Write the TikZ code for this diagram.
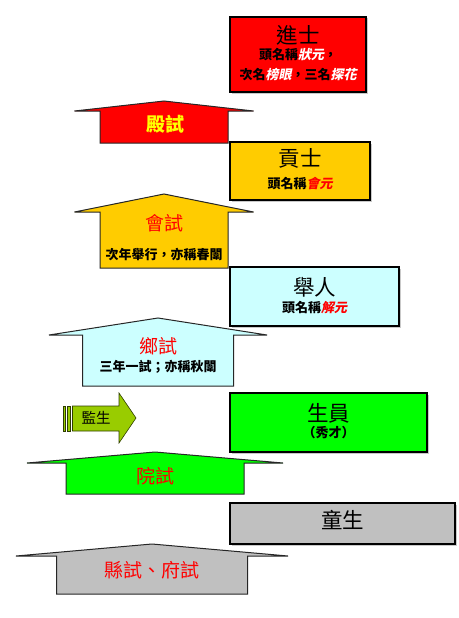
\documentclass[tikz,border=0pt]{standalone}
\usepackage{fontspec}
\setmainfont{Noto Sans CJK TC}
\newfontfamily\slantcjk[FakeSlant=0.2]{Noto Sans CJK TC}
\usepackage{xcolor}
\usepackage{tikz}
\usetikzlibrary{shadows}
\definecolor{examred}{HTML}{FF0000}
\definecolor{gongshigold}{HTML}{FFCC00}
\definecolor{jurencyan}{HTML}{CCFFFF}
\definecolor{shengyuangreen}{HTML}{00FF00}
\definecolor{tongshenggray}{HTML}{C0C0C0}
\definecolor{jianshengolive}{HTML}{99CC00}
\definecolor{dianyellow}{HTML}{FFFF00}
\tikzset{
  rankbox/.style={draw=black,line width=1.7pt,
    drop shadow={shadow xshift=1.5pt,shadow yshift=-1.5pt,fill=black!30,opacity=.7}},
  stagearrow/.style={draw=black!85,line width=1pt,line join=miter},
  ranktitle/.style={font=\fontsize{21.5}{23}\selectfont},
  ranknote/.style={font=\bfseries\fontsize{13}{15}\selectfont},
  stagelabel/.style={text=examred,font=\fontsize{19}{21}\selectfont},
  stagenote/.style={font=\bfseries\fontsize{13}{15}\selectfont}
}

\begin{document}
\begin{tikzpicture}[x=1pt,y=-1pt]
\useasboundingbox (0,0) rectangle (458,618);
% rank boxes
\node[rankbox,fill=examred,minimum width=136pt,minimum height=75pt] (jinshi) at (298,54.5) {};
\node[rankbox,fill=gongshigold,minimum width=140pt,minimum height=58pt] (gongshi) at (300,171) {};
\node[rankbox,fill=jurencyan,minimum width=169pt,minimum height=59pt] (juren) at (314.5,296.5) {};
\node[rankbox,fill=shengyuangreen,minimum width=197pt,minimum height=59pt] (shengyuan) at (328.5,422.5) {};
\node[rankbox,fill=tongshenggray,minimum width=225pt,minimum height=41pt] (tongsheng) at (342.5,523.5) {};
\node[ranktitle] (jinshititle) at (298,35) {進士};
\node[ranknote] (jinshinote) at (298,55) {頭名稱{\slantcjk\color{white}狀元}，};
\node[ranknote] (jinshinoteb) at (298,75) {次名{\slantcjk\color{white}榜眼}，三名{\slantcjk\color{white}探花}};
\node[ranktitle] (gongshititle) at (300,158) {貢士};
\node[ranknote] (gongshinote) at (300,183) {頭名稱{\slantcjk\color{examred}會元}};
\node[ranktitle] (jurentitle) at (314.5,287) {舉人};
\node[ranknote] (jurennote) at (314.5,308) {頭名稱{\slantcjk\color{examred}解元}};
\node[ranktitle] (shengyuantitle) at (328.5,413) {生員};
\node[ranknote] (shengyuannote) at (328.5,433) {（秀才）};
\node[ranktitle] (tongshengtitle) at (342.5,520) {童生};
% exam arrows
\foreach \cx/\tip/\wing/\hw/\hb/\bot/\col in {164/101/111/89.5/64/143/examred,
    164/194/212/89.5/64/268/gongshigold, 158/318/335/109/75.5/386/jurencyan,
    155/452/463/128/89/494/shengyuangreen, 152/544/556/136/95.5/594/tongshenggray}
  \draw[stagearrow,fill=\col] (\cx,\tip) -- (\cx+\hw,\wing) -- (\cx+\hb,\wing) -- (\cx+\hb,\bot)
    -- (\cx-\hb,\bot) -- (\cx-\hb,\wing) -- (\cx-\hw,\wing) -- cycle;
\node[stagelabel,text=dianyellow,font=\bfseries\fontsize{19}{21}\selectfont] (dianshi) at (165,124) {殿試};
\node[stagelabel] (huishi) at (164,223) {會試};
\node[stagenote] (huishinote) at (164,255) {次年舉行，亦稱春闈};
\node[stagelabel] (xiangshi) at (158,346) {鄉試};
\node[stagenote] (xiangshinote) at (158,367) {三年一試；亦稱秋闈};
\node[stagelabel] (yuanshi) at (155,476) {院試};
\node[stagelabel] (xianshi) at (152,570) {縣試、府試};
% jiansheng striped arrow
\fill[jianshengolive,draw=black!70!jianshengolive,line width=.6pt] (63,406) rectangle (65.7,431);
\fill[jianshengolive,draw=black!70!jianshengolive,line width=.6pt] (67.3,406) rectangle (70.7,431);
\draw[jianshengolive,fill=jianshengolive,draw=black!70!jianshengolive,line width=.6pt]
  (72.5,406) -- (119,406) -- (119,393) -- (136,418) -- (119,443) -- (119,431) -- (72.5,431) -- cycle;
\node[font=\fontsize{14.5}{16}\selectfont] (jiansheng) at (96,418) {監生};
\end{tikzpicture}
\end{document}
